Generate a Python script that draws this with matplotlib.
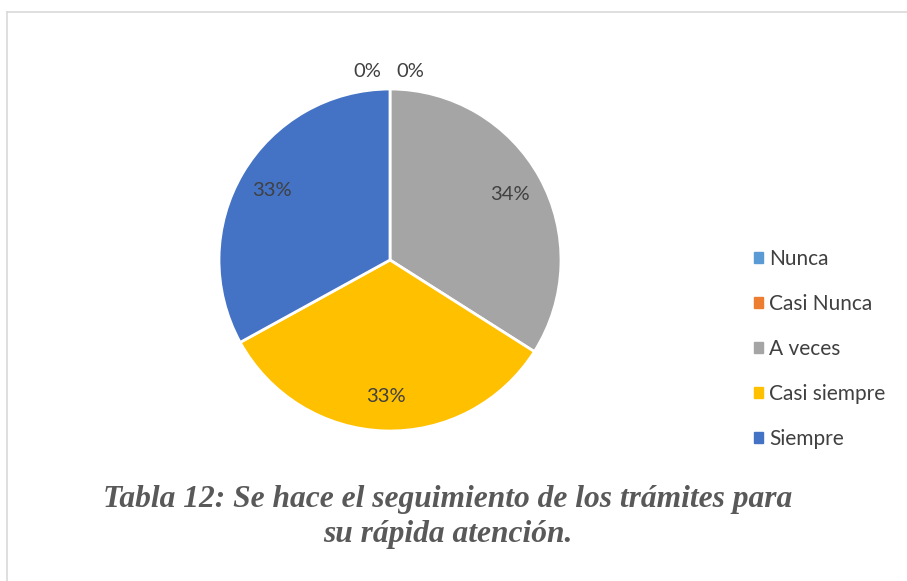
import matplotlib
matplotlib.use("Agg")
import matplotlib.pyplot as plt
from matplotlib.lines import Line2D

categories = ["Nunca", "Casi Nunca", "A veces", "Casi siempre", "Siempre"]
values = [0, 0, 34, 33, 33]
colors = ["#5B9BD5", "#ED7D31", "#A5A5A5", "#FFC000", "#4472C4"]
title = "Tabla 12: Se hace el seguimiento de los trámites para\nsu rápida atención."

W, H = 907, 581
fig = plt.figure(figsize=(W / 100, H / 100), dpi=100)

# border lines (top and left)
fig.add_artist(Line2D([7 / W, 1], [1 - 12 / H, 1 - 12 / H], color="#d9d9d9", lw=1.2))
fig.add_artist(Line2D([7 / W, 7 / W], [0, 1 - 12 / H], color="#d9d9d9", lw=1.2))

cx, cy, r = 390, 260, 171
ax = fig.add_axes([(cx - r) / W, (H - cy - r) / H, 2 * r / W, 2 * r / H])
wedges, texts, autotexts = ax.pie(
    values, colors=colors, startangle=90, counterclock=False,
    autopct="%.0f%%", pctdistance=0.8,
    wedgeprops=dict(edgecolor="white", linewidth=2),
    textprops=dict(color="#404040", fontsize=14.5, family="Lato"),
)
ax.set_xlim(-1, 1)
ax.set_ylim(-1, 1)
ax.set_aspect("equal")

# place zero-value labels above the pie, side by side
zero_idx = [i for i, v in enumerate(values) if v == 0]
offsets = [-0.13, 0.12]
for k, i in enumerate(zero_idx):
    autotexts[i].set_position((offsets[k % 2], 1.10))

handles = [plt.Rectangle((0, 0), 1, 1, color=c) for c in colors]
fig.legend(handles, categories, loc="center left", bbox_to_anchor=(735 / W, 1 - 349 / H),
           frameon=False, prop=dict(family="Lato", size=15), labelcolor="#404040",
           handlelength=0.45, handleheight=0.45, handletextpad=0.3, labelspacing=1.2)

fig.text(448 / W, 1 - 517 / H, title, ha="center", va="center",
         family="Liberation Serif", style="italic", weight="bold", fontsize=22.7,
         color="#595959", linespacing=1.28)

fig.savefig("out.png", dpi=100)
